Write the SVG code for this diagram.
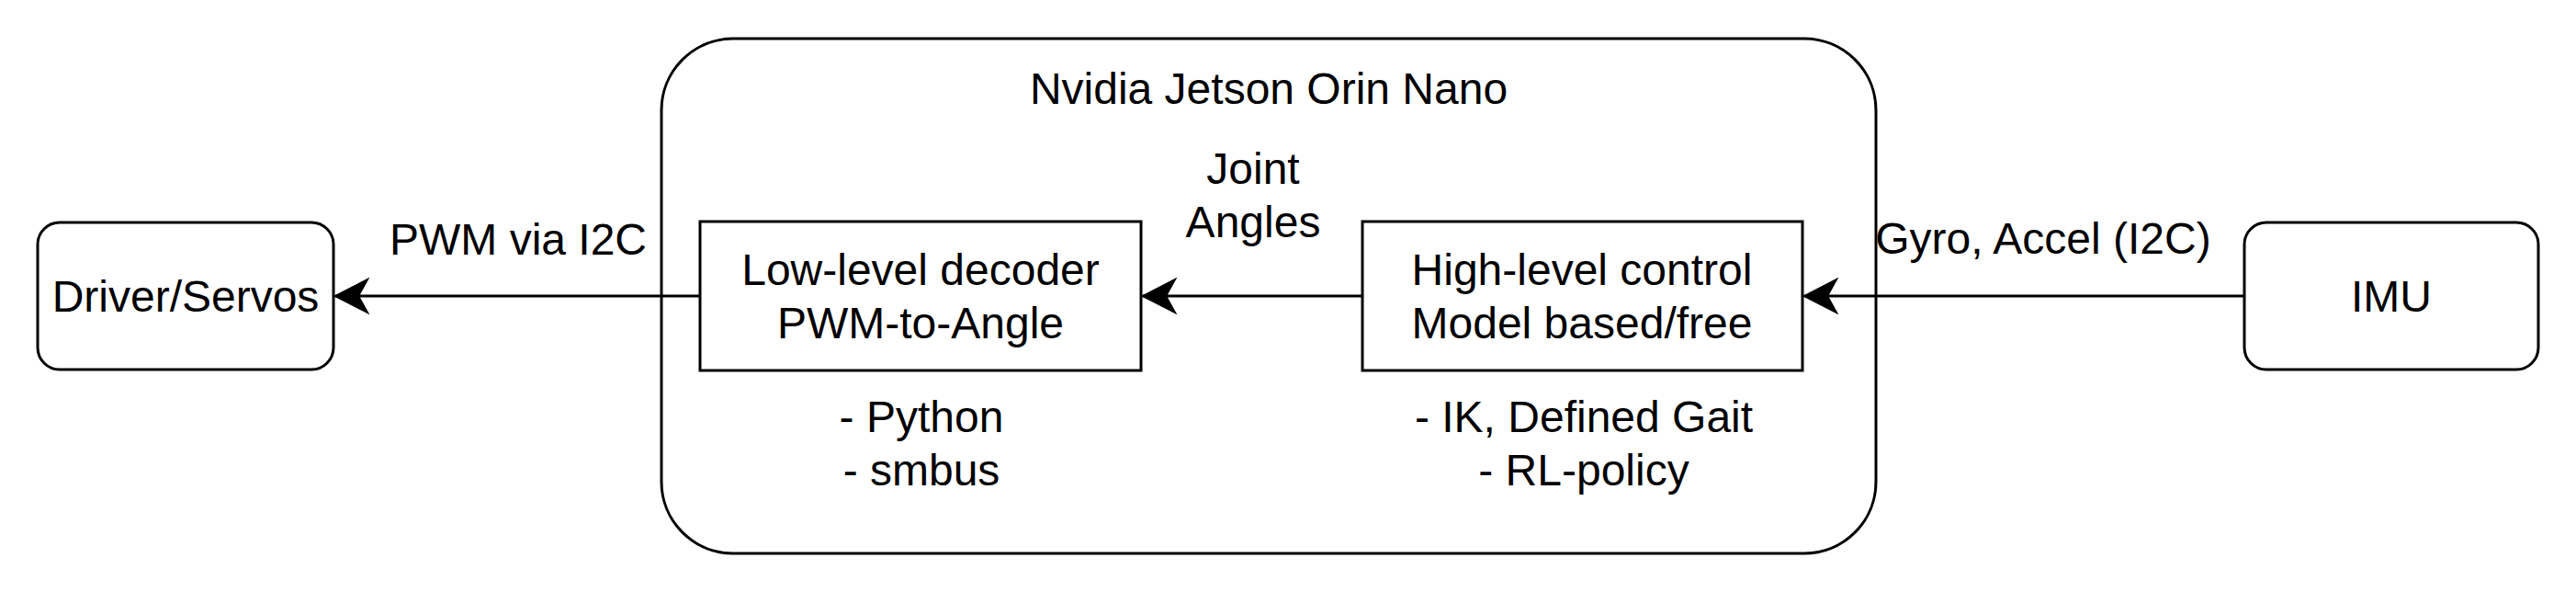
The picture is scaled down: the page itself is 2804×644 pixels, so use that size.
<svg xmlns="http://www.w3.org/2000/svg" width="2804" height="644" viewBox="0 0 2804 644">
<style>
text{font-family:"Liberation Sans",Arial,Helvetica,sans-serif;font-size:48px;fill:#000;text-anchor:middle}
.box{fill:#fff;stroke:#000;stroke-width:3}
.edge{fill:none;stroke:#000;stroke-width:3}
</style>
<defs>
<marker id="arr" markerUnits="userSpaceOnUse" markerWidth="40" markerHeight="40" viewBox="0 0 40 40" refX="38" refY="20" orient="auto">
<path d="M38,20 L3,2 L13,20 L3,38 Z" fill="#000" stroke="#000" stroke-width="2"/>
</marker>
</defs>
<rect width="2804" height="644" fill="#fff"/>
<g id="jetson">
<rect class="box" x="720" y="42" width="1322" height="560" rx="78" ry="78"/>
<text x="1381" y="113">Nvidia Jetson Orin Nano</text>
</g>
<g id="driver">
<rect class="box" x="41" y="242" width="322" height="160" rx="24" ry="24"/>
<text x="202" y="339">Driver/Servos</text>
</g>
<g id="lowlevel">
<rect class="box" x="762" y="241" width="480" height="162"/>
<text x="1002" y="310">Low-level decoder</text>
<text x="1002" y="368">PWM-to-Angle</text>
</g>
<g id="highlevel">
<rect class="box" x="1483" y="241" width="479" height="162"/>
<text x="1722" y="310">High-level control</text>
<text x="1722" y="368">Model based/free</text>
</g>
<g id="imu">
<rect class="box" x="2443" y="242" width="320" height="160" rx="24" ry="24"/>
<text x="2603" y="339">IMU</text>
</g>
<g id="notes">
<text x="1003" y="470">- Python</text>
<text x="1003" y="528">- smbus</text>
<text x="1724" y="470">- IK, Defined Gait</text>
<text x="1724" y="528">- RL-policy</text>
</g>
<g id="connectors">
<path class="edge" d="M762,322 L365,322" marker-end="url(#arr)"/>
<path class="edge" d="M1483,322 L1244,322" marker-end="url(#arr)"/>
<path class="edge" d="M2443,322 L1964,322" marker-end="url(#arr)"/>
<text x="564" y="277">PWM via I2C</text>
<text x="1364" y="200">Joint</text>
<text x="1364" y="258">Angles</text>
<text x="2224" y="276">Gyro, Accel (I2C)</text>
</g>
</svg>
